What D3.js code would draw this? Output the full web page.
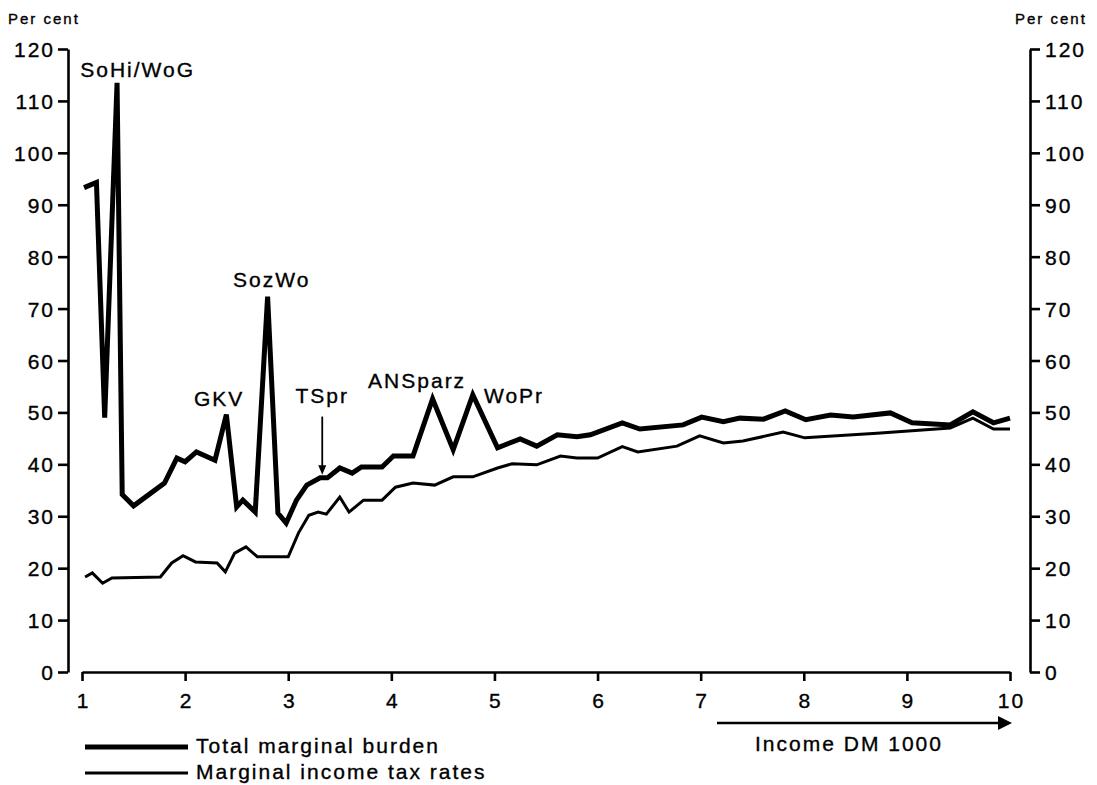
<!DOCTYPE html>
<html>
<head>
<meta charset="utf-8">
<script src="https://cdn.jsdelivr.net/npm/d3@7"></script>
<style>
  html, body { margin: 0; padding: 0; background: #fff; }
  svg { display: block; }
  text { font-family: "Liberation Sans", Arial, Helvetica, sans-serif; fill: #000; letter-spacing: 2px; stroke: #000; stroke-width: 0.35px; }
</style>
</head>
<body>
<svg id="chart" width="1097" height="785"></svg>
<script>
// Income in DM 1000 and the marginal rates in per cent
const burdenIncome = [1.02, 1.14, 1.22, 1.34, 1.39, 1.50, 1.80, 1.92, 2.00, 2.11, 2.29, 2.40, 2.50, 2.56, 2.68, 2.80, 2.90, 2.98, 3.08, 3.18, 3.31, 3.38, 3.50, 3.62, 3.71, 3.91, 4.02, 4.21, 4.40, 4.60, 4.79, 5.03, 5.25, 5.41, 5.61, 5.80, 5.93, 6.24, 6.41, 6.83, 7.01, 7.22, 7.38, 7.61, 7.82, 8.02, 8.26, 8.48, 8.84, 9.05, 9.42, 9.64, 9.84, 10.0];
const burdenRate = [93.3, 94.3, 49.0, 113.5, 34.2, 32.0, 36.4, 41.2, 40.5, 42.4, 40.8, 49.6, 31.8, 33.1, 30.8, 72.3, 30.6, 28.7, 33.1, 36.0, 37.4, 37.4, 39.3, 38.3, 39.5, 39.5, 41.6, 41.6, 52.6, 42.8, 53.4, 43.2, 44.9, 43.5, 45.7, 45.3, 45.7, 48.0, 46.8, 47.6, 49.1, 48.2, 48.9, 48.7, 50.3, 48.6, 49.5, 49.1, 49.9, 48.0, 47.6, 50.1, 48.0, 48.9];

const taxIncome = [1.03, 1.10, 1.20, 1.29, 1.76, 1.87, 1.98, 2.10, 2.31, 2.39, 2.48, 2.59, 2.70, 3.00, 3.10, 3.20, 3.29, 3.37, 3.50, 3.59, 3.73, 3.91, 4.04, 4.21, 4.42, 4.60, 4.79, 5.03, 5.17, 5.41, 5.64, 5.80, 6.00, 6.24, 6.39, 6.77, 6.99, 7.22, 7.41, 7.80, 8.01, 8.71, 9.42, 9.64, 9.84, 10.0];
const taxRate = [18.3, 19.1, 17.1, 18.1, 18.3, 21.0, 22.4, 21.2, 21.0, 19.3, 22.9, 24.1, 22.2, 22.2, 26.8, 30.2, 30.8, 30.4, 33.7, 30.8, 33.1, 33.1, 35.6, 36.4, 36.0, 37.6, 37.6, 39.3, 40.1, 39.9, 41.6, 41.2, 41.2, 43.4, 42.4, 43.5, 45.5, 44.1, 44.5, 46.2, 45.1, 46.0, 47.0, 48.9, 46.8, 46.8];

const xTicks = [1, 2, 3, 4, 5, 6, 7, 8, 9, 10];
const yTicks = [0, 10, 20, 30, 40, 50, 60, 70, 80, 90, 100, 110, 120];

// Abbreviations marking where a benefit or contribution sets in
const noteLabels = ["SoHi/WoG", "SozWo", "GKV", "TSpr", "ANSparz", "WoPr"];
const noteIncome = [1.54, 2.84, 2.33, 3.33, 4.25, 5.19];
const noteRate = [114.6, 74.2, 51.3, 51.8, 54.7, 51.8];

const legendLabels = ["Total marginal burden", "Marginal income tax rates"];

const svg = d3.select("#chart");
const x = d3.scaleLinear().domain([1, 10]).range([82, 1010]);
const y = d3.scaleLinear().domain([0, 120]).range([672, 49]);

const axisStroke = 2.6;
const fontSize = 21;

function styleAxis(g) {
  g.selectAll("path.domain").attr("stroke", "#000").attr("stroke-width", axisStroke);
  g.selectAll(".tick line").attr("stroke", "#000").attr("stroke-width", axisStroke);
  g.selectAll(".tick text").attr("fill", "#000").style("font-size", fontSize + "px")
    .style("font-family", '"Liberation Sans", Arial, sans-serif');
}

// left axis
const gL = svg.append("g").attr("transform", "translate(68,0)")
  .call(d3.axisLeft(y).tickValues(yTicks).tickSize(10).tickSizeOuter(0).tickPadding(5));
styleAxis(gL);
gL.selectAll(".tick text").attr("dy", "0.36em").attr("x", -13);

// right axis
const gR = svg.append("g").attr("transform", "translate(1030,0)")
  .call(d3.axisRight(y).tickValues(yTicks).tickSize(10).tickSizeOuter(0).tickPadding(5));
styleAxis(gR);
gR.selectAll(".tick text").attr("dy", "0.36em").attr("x", 15);

// income axis
const gB = svg.append("g").attr("transform", "translate(0,672)")
  .call(d3.axisBottom(x).tickValues(xTicks).tickSize(9).tickSizeOuter(0).tickFormat(d3.format("d")));
styleAxis(gB);
gB.selectAll(".tick text").attr("y", 36).attr("dy", 0).attr("dx", 1);

// unit captions
svg.append("text").attr("x", 8).attr("y", 24).style("font-size", "15px").text("Per cent");
svg.append("text").attr("x", 1015).attr("y", 24).style("font-size", "15px").text("Per cent");

// lines
const burdenPts = burdenIncome.map((v, i) => [v, burdenRate[i]]);
const taxPts = taxIncome.map((v, i) => [v, taxRate[i]]);
const line = d3.line().x(d => x(d[0])).y(d => y(d[1]));

svg.append("path").datum(taxPts).attr("d", line)
  .attr("fill", "none").attr("stroke", "#000").attr("stroke-width", 3)
  .attr("stroke-linejoin", "miter").attr("stroke-miterlimit", 3);
svg.append("path").datum(burdenPts).attr("d", line)
  .attr("fill", "none").attr("stroke", "#000").attr("stroke-width", 5)
  .attr("stroke-linejoin", "miter").attr("stroke-miterlimit", 3);

// annotations
noteLabels.forEach((t, i) => {
  svg.append("text").attr("x", x(noteIncome[i])).attr("y", y(noteRate[i]))
    .attr("text-anchor", "middle").style("font-size", fontSize + "px").text(t);
});

// arrow under TSpr
const arrowX = x(3.33);
svg.append("line").attr("x1", arrowX).attr("x2", arrowX)
  .attr("y1", y(49.2)).attr("y2", y(39.0))
  .attr("stroke", "#000").attr("stroke-width", 1.8);
svg.append("path")
  .attr("d", `M${arrowX - 4},${y(39.8)} L${arrowX + 4},${y(39.8)} L${arrowX},${y(38.0)} Z`)
  .attr("fill", "#000");

// income direction arrow
svg.append("line").attr("x1", 717).attr("x2", 1000).attr("y1", 723).attr("y2", 723)
  .attr("stroke", "#000").attr("stroke-width", 2.4);
svg.append("path").attr("d", "M998,716 L1012,723 L998,730 Z").attr("fill", "#000");
svg.append("text").attr("x", 849).attr("y", 751).attr("text-anchor", "middle")
  .style("font-size", fontSize + "px").text("Income DM 1000");

// legend
const legendY = [747, 773];
const legendW = [5, 3];
legendLabels.forEach((t, i) => {
  svg.append("line").attr("x1", 85).attr("x2", 188).attr("y1", legendY[i]).attr("y2", legendY[i])
    .attr("stroke", "#000").attr("stroke-width", legendW[i]);
  svg.append("text").attr("x", 196).attr("y", legendY[i] + 6)
    .style("font-size", fontSize + "px").text(t);
});
</script>
</body>
</html>
